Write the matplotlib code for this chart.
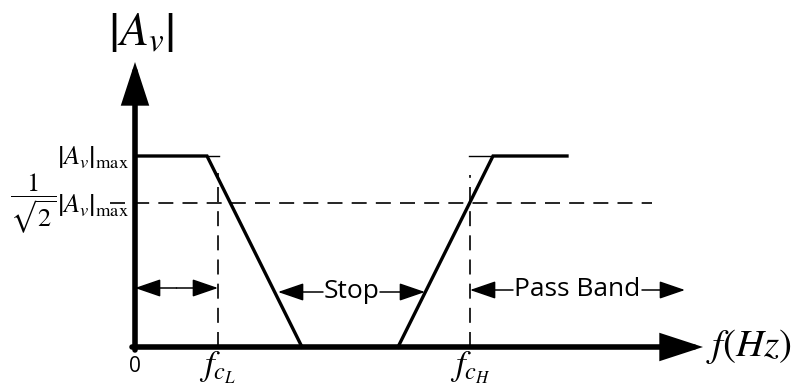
import matplotlib
matplotlib.use("Agg")
import matplotlib.pyplot as plt

# Band-stop magnitude response (sketch units: origin at 0, max gain at 191)
gain_max = 191
gain_cut = 144

low_f = [0, 72, 167]
low_gain = [gain_max, gain_max, 0]
high_f = [263, 358, 432]
high_gain = [0, gain_max, gain_max]

f_cL = 83
f_cH = 335

x_axis_end = 568
y_axis_end = 285
dash_span = [-25, 517]

tick_labels = ["0", r"$f_{c_L}$", r"$f_{c_H}$"]
tick_pos = [0, f_cL, f_cH]

plt.rcParams["mathtext.fontset"] = "stix"
sans = ["Open Sans", "DejaVu Sans"]

fig = plt.figure(figsize=(7.96, 3.91), dpi=100)
ax = fig.add_axes([0, 0, 1, 1])
ax.set_xlim(-135, 661)
ax.set_ylim(-44, 347)
ax.axis("off")

# axes with arrow heads
axis_arrow = dict(arrowstyle="-|>,head_length=2.3,head_width=0.75",
                  color="black", lw=4, shrinkA=0, shrinkB=0,
                  mutation_scale=10, joinstyle="miter")
ax.annotate("", xy=(0, y_axis_end), xytext=(0, -3), arrowprops=axis_arrow)
ax.annotate("", xy=(x_axis_end, 0), xytext=(-3, 0), arrowprops=axis_arrow)

# response curves
ax.plot(low_f, low_gain, color="black", lw=2.4, solid_joinstyle="miter")
ax.plot(high_f, high_gain, color="black", lw=2.4, solid_joinstyle="miter")

# thin ticks at max level
ax.plot([low_f[1], f_cL + 1], [gain_max, gain_max], color="black", lw=1)
ax.plot([f_cH - 1, high_f[1]], [gain_max, gain_max], color="black", lw=1)

# dashed guides
dash = dict(color="black", lw=1.2, dashes=(9, 5.5))
ax.plot(dash_span, [gain_cut, gain_cut], **dash)
ax.plot([f_cL, f_cL], [0, 174], **dash)
ax.plot([f_cH, f_cH], [0, 172], **dash)

# band arrows
band_arrow = dict(arrowstyle="-|>,head_length=1.6,head_width=0.55",
                  color="black", lw=1.1, shrinkA=0, shrinkB=0,
                  mutation_scale=10)
ax.annotate("", xy=(0, 59), xytext=(f_cL / 2, 59), arrowprops=band_arrow)
ax.annotate("", xy=(f_cL, 59), xytext=(f_cL / 2, 59), arrowprops=band_arrow)

ax.annotate("", xy=(143, 55), xytext=(188, 55), arrowprops=band_arrow)
ax.annotate("", xy=(290, 55), xytext=(245, 55), arrowprops=band_arrow)
ax.text(216.5, 55, "Stop", family=sans, fontsize=19, ha="center", va="center")

ax.annotate("", xy=(f_cH, 57), xytext=(378, 57), arrowprops=band_arrow)
ax.annotate("", xy=(550, 57), xytext=(507, 57), arrowprops=band_arrow)
ax.text(442.5, 57, "Pass Band", family=sans, fontsize=19, ha="center", va="center")

# labels
ax.text(6, 314, r"$\left|A_v\right|$", fontsize=34, ha="center", va="center")
ax.text(-6, 190, r"$\left|A_v\right|_{\mathrm{max}}$", fontsize=19, ha="right", va="center")
ax.text(-102, 143, r"$\dfrac{1}{\sqrt{2}}$", fontsize=19, ha="center", va="center")
ax.text(-6, 142, r"$\left|A_v\right|_{\mathrm{max}}$", fontsize=19, ha="right", va="center")
ax.text(0, -9, tick_labels[0], family=sans, fontsize=15, ha="center", va="top")
for lab, pos in zip(tick_labels[1:], tick_pos[1:]):
    ax.text(pos, -3, lab, fontsize=25, ha="center", va="top")
ax.text(571, 0, r"$f\left(Hz\right)$", fontsize=28, ha="left", va="center")

fig.savefig("out.png", dpi=100)
